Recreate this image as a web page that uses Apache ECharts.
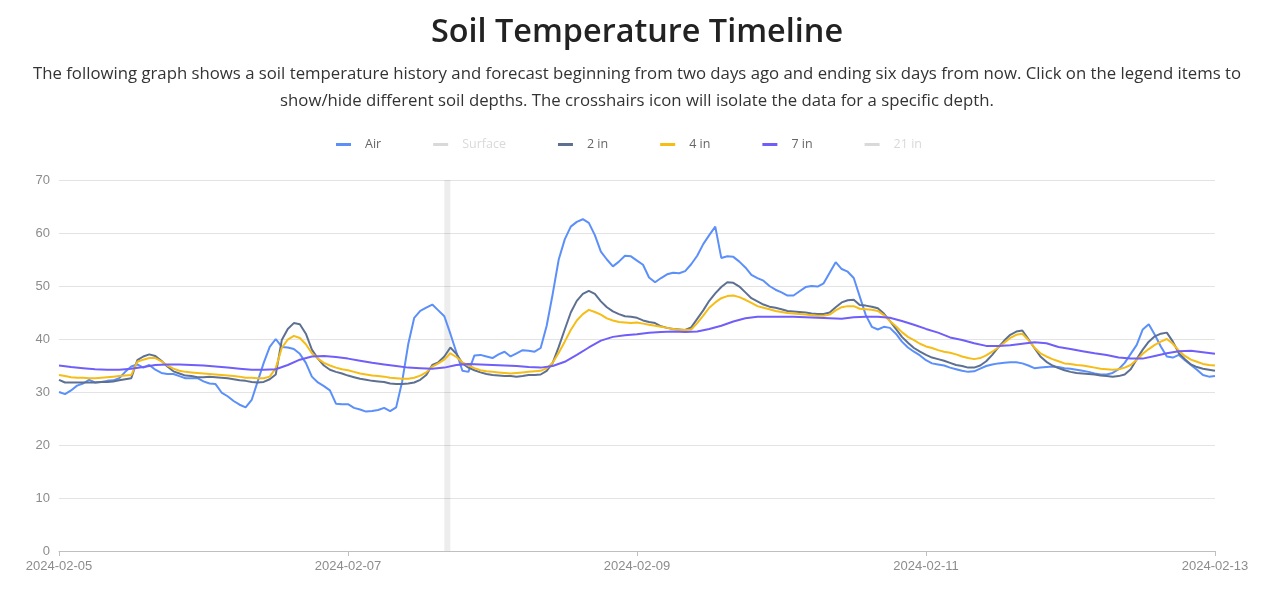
<!DOCTYPE html>
<html>
<head>
<meta charset="utf-8">
<script src="https://cdn.jsdelivr.net/npm/echarts@6/dist/echarts.min.js"></script>
<style>
  html, body { margin: 0; padding: 0; background: #fff; }
  #wrap { position: relative; width: 1280px; height: 595px; overflow: hidden; }
  #chart { position: absolute; left: 0; top: 0; width: 1280px; height: 595px; }
  #head { position: absolute; left: -3px; top: 0; width: 1280px; text-align: center; z-index: 2; pointer-events: none; font-family: "Open Sans", "Noto Sans", sans-serif; color: #222; }
  #head h1 { margin: 0; position: absolute; top: 7px; width: 100%; font-size: 32.4px; font-weight: 600; }
  #head p { margin: 0; position: absolute; top: 59px; width: 100%; font-size: 16.75px; line-height: 27px; color: #333; }
</style>
</head>
<body>
<div id="wrap">
  <div id="chart"></div>
  <div id="head">
    <h1>Soil Temperature Timeline</h1>
    <p>The following graph shows a soil temperature history and forecast beginning from two days ago and ending six days from now. Click on the legend items to<br>show/hide different soil depths. The crosshairs icon will isolate the data for a specific depth.</p>
  </div>
</div>
<script>
// Start of timeline: 2024-02-05 00:00; x values are hours from start.
const startDate = [2024, 2, 5];
const seriesNames = ['Air', 'Surface', '2 in', '4 in', '7 in', '21 in'];
const hiddenSeries = ['Surface', '21 in'];
const nowHour = 64; // "now" marker band (64h–65h)

// Air temperature, hourly (°F)
const airStep = 1;
const airValues = [
 30.0,29.6,30.3,31.2,31.6,32.3,31.8,31.9,32.1,32.2,32.6,33.8,34.8,35.2,34.6,35.1,34.2,33.6,33.4,33.4,
 33.0,32.6,32.6,32.6,32.0,31.6,31.5,29.9,29.2,28.3,27.6,27.1,28.5,32.0,35.5,38.5,40.0,38.5,38.4,38.1,
 37.2,35.5,32.9,31.8,31.1,30.3,27.8,27.7,27.7,27.0,26.7,26.3,26.4,26.6,27.0,26.4,27.1,32.0,39.0,44.0,
 45.3,45.9,46.5,45.4,44.3,41.0,37.5,34.0,33.8,36.9,37.0,36.7,36.4,37.1,37.6,36.7,37.3,37.9,37.8,37.6,
 38.3,42.5,48.5,55.0,58.8,61.2,62.1,62.6,61.9,59.6,56.5,55.0,53.7,54.6,55.7,55.6,54.8,54.0,51.6,50.7,
 51.5,52.2,52.5,52.4,52.8,54.1,55.7,57.9,59.6,61.2,55.3,55.6,55.5,54.6,53.5,52.1,51.5,51.0,50.0,49.3,
 48.8,48.2,48.2,49.0,49.8,50.0,49.9,50.5,52.5,54.5,53.2,52.7,51.5,48.0,44.5,42.3,41.8,42.3,42.1,41.0,
 39.5,38.4,37.6,36.9,36.0,35.4,35.2,35.0,34.6,34.3,34.0,33.8,33.9,34.4,34.9,35.2,35.4,35.5,35.6,35.6,
 35.4,35.0,34.5,34.6,34.7,34.8,34.7,34.5,34.4,34.2,34.0,33.8,33.5,33.3,33.3,33.6,34.3,35.5,37.2,38.9,
 41.8,42.8,40.8,38.6,36.7,36.5,37.0,36.0,35.1,34.2,33.2,32.9,33.0
];

// Surface and 21 in are hidden in the legend
const surfaceStep = 1;
const surfaceValues = [];
const in21Step = 1;
const in21Values = [];

// 2 in soil temperature, hourly
const in2Step = 1;
const in2Values = [
 32.3,31.8,31.8,31.8,31.8,31.8,31.8,31.9,31.9,32.0,32.2,32.4,32.6,36.0,36.7,37.1,36.8,35.9,34.8,33.9,
 33.5,33.1,33.0,32.8,32.8,32.9,32.8,32.7,32.6,32.4,32.2,32.1,31.9,31.8,31.9,32.4,33.3,39.8,41.9,43.0,
 42.8,41.0,38.0,36.3,35.0,34.2,33.8,33.5,33.1,32.8,32.5,32.3,32.1,32.0,31.9,31.6,31.5,31.5,31.6,31.8,
 32.3,33.2,35.1,35.6,36.7,38.4,37.2,35.4,34.6,34.1,33.7,33.4,33.2,33.1,33.0,33.0,32.9,33.0,33.2,33.2,
 33.3,34.0,35.5,38.5,41.8,45.0,47.2,48.5,49.1,48.5,47.1,46.0,45.2,44.7,44.3,44.2,44.0,43.5,43.2,43.0,
 42.4,42.1,41.9,41.8,41.7,42.2,43.8,45.4,47.2,48.6,49.8,50.7,50.6,49.9,48.8,47.7,47.1,46.5,46.1,45.9,
 45.6,45.3,45.2,45.1,45.0,44.8,44.7,44.7,45.0,46.0,46.9,47.3,47.4,46.4,46.3,46.1,45.8,44.8,43.4,41.9,
 40.4,39.3,38.3,37.6,37.0,36.5,36.2,35.9,35.5,35.1,34.9,34.6,34.6,35.0,35.8,37.0,38.4,39.7,40.8,41.4,
 41.6,40.0,38.3,36.7,35.7,35.0,34.5,34.1,33.8,33.6,33.5,33.4,33.3,33.1,33.0,32.9,33.0,33.3,34.3,36.2,
 38.0,39.5,40.5,41.0,41.2,39.5,37.3,36.2,35.2,34.7,34.4,34.2,34.0
];

// 4 in soil temperature, hourly
const in4Step = 1;
const in4Values = [
 33.2,33.0,32.8,32.7,32.7,32.6,32.6,32.7,32.8,32.9,33.0,33.1,33.2,35.7,36.1,36.4,36.4,35.8,35.0,34.4,
 34.0,33.8,33.7,33.6,33.5,33.4,33.3,33.2,33.1,33.0,32.9,32.7,32.7,32.6,32.6,32.9,34.5,38.3,39.9,40.6,
 40.2,39.0,37.3,36.3,35.5,35.0,34.6,34.3,34.1,33.8,33.5,33.3,33.1,33.0,32.9,32.7,32.6,32.5,32.5,32.7,
 33.1,33.7,34.8,35.4,36.1,37.3,36.6,35.6,35.0,34.5,34.1,33.9,33.8,33.7,33.6,33.5,33.6,33.7,33.8,33.9,
 34.0,34.5,35.5,37.4,39.5,41.7,43.5,44.7,45.5,45.1,44.6,43.9,43.5,43.2,43.1,43.0,43.1,42.9,42.7,42.5,
 42.3,42.1,41.9,41.7,41.7,41.8,43.0,44.4,45.9,46.9,47.7,48.1,48.2,47.9,47.4,46.8,46.2,45.9,45.6,45.3,
 45.1,44.9,44.8,44.7,44.6,44.5,44.4,44.4,44.6,45.4,46.0,46.2,46.2,45.7,45.6,45.5,45.3,44.5,43.4,42.4,
 41.3,40.4,39.8,39.1,38.6,38.3,37.9,37.6,37.4,37.1,36.7,36.4,36.2,36.4,36.9,37.6,38.4,39.3,40.2,40.8,
 41.0,39.8,38.4,37.3,36.7,36.2,35.8,35.4,35.3,35.1,35.0,34.8,34.6,34.4,34.3,34.2,34.3,34.6,35.1,36.1,
 37.2,38.1,38.9,39.5,40.0,39.1,37.8,36.8,36.1,35.7,35.3,35.1,35.0
];

// 7 in soil temperature, every 2 hours
const in7Step = 2;
const in7Values = [
 35.0,34.7,34.5,34.3,34.2,34.2,34.4,34.7,35.1,35.2,35.2,35.1,35.0,34.8,34.6,34.4,34.2,34.2,34.3,35.1,
 36.1,36.7,36.8,36.6,36.3,35.9,35.5,35.2,34.9,34.6,34.5,34.4,34.6,35.1,35.3,35.2,35.1,35.0,34.9,34.7,
 34.6,34.9,35.7,37.0,38.4,39.7,40.4,40.7,40.9,41.2,41.3,41.4,41.3,41.4,41.9,42.5,43.3,43.9,44.2,44.2,
 44.2,44.2,44.1,44.0,43.9,43.8,44.1,44.2,44.2,44.0,43.4,42.7,41.9,41.2,40.3,39.8,39.2,38.7,38.7,38.8,
 39.1,39.4,39.2,38.5,38.1,37.7,37.3,37.0,36.5,36.3,36.3,36.8,37.3,37.7,37.8,37.5,37.2
];

const yTicks = [0, 10, 20, 30, 40, 50, 60, 70];
const totalHours = 192;

const colors = ['#5B8FF9', '#5AD8A6', '#5D7092', '#F6BD16', '#6F5EF9', '#6DC8EC'];

function toPairs(values, step) {
  return values.map((v, i) => [i * step, v]);
}
function pad(n) { return n < 10 ? '0' + n : '' + n; }
function hourLabel(h) {
  const d = new Date(Date.UTC(startDate[0], startDate[1] - 1, startDate[2]) + h * 3600000);
  return d.getUTCFullYear() + '-' + pad(d.getUTCMonth() + 1) + '-' + pad(d.getUTCDate());
}

const seriesData = [
  toPairs(airValues, airStep),
  toPairs(surfaceValues, surfaceStep),
  toPairs(in2Values, in2Step),
  toPairs(in4Values, in4Step),
  toPairs(in7Values, in7Step),
  toPairs(in21Values, in21Step)
];

const selected = {};
seriesNames.forEach(n => { selected[n] = hiddenSeries.indexOf(n) < 0; });

const chart = echarts.init(document.getElementById('chart'), null, { renderer: 'canvas' });
chart.setOption({
  animation: false,
  color: colors,
  legend: {
    data: seriesNames,
    selected: selected,
    top: 138,
    left: 336,
    padding: 0,
    icon: 'rect',
    itemWidth: 15,
    itemHeight: 3,
    itemGap: 52,
    inactiveColor: '#d9d9d9',
    textStyle: { color: '#666', fontSize: 12.5, fontFamily: 'Open Sans, sans-serif', padding: [0, 0, 0, 9] }
  },
  grid: { left: 59, right: 65, top: 180, bottom: 44 },
  xAxis: {
    type: 'value',
    min: 0,
    max: totalHours,
    interval: 48,
    axisLine: { lineStyle: { color: '#bfbfbf' } },
    axisTick: { show: true, length: 5, lineStyle: { color: '#bfbfbf' } },
    splitLine: { show: false },
    axisLabel: { color: '#8c8c8c', fontSize: 13, margin: 9, formatter: v => hourLabel(v),
      showMinLabel: true, showMaxLabel: true, alignMinLabel: 'center', alignMaxLabel: 'center' }
  },
  yAxis: {
    type: 'value',
    min: yTicks[0],
    max: yTicks[yTicks.length - 1],
    interval: 10,
    axisLine: { show: false },
    axisTick: { show: false },
    splitLine: { lineStyle: { color: '#e3e3e3' } },
    axisLabel: { color: '#8c8c8c', fontSize: 13, margin: 9 }
  },
  series: seriesNames.map((name, i) => {
    const s = {
      name: name,
      type: 'line',
      data: seriesData[i],
      showSymbol: false,
      symbol: 'none',
      smooth: false,
      lineStyle: { width: 2 },
      emphasis: { disabled: true }
    };
    if (i === 0) {
      s.markArea = {
        silent: true,
        itemStyle: { color: 'rgba(0,0,0,0.07)' },
        data: [[{ xAxis: nowHour }, { xAxis: nowHour + 1 }]]
      };
    }
    return s;
  })
});
</script>
</body>
</html>
